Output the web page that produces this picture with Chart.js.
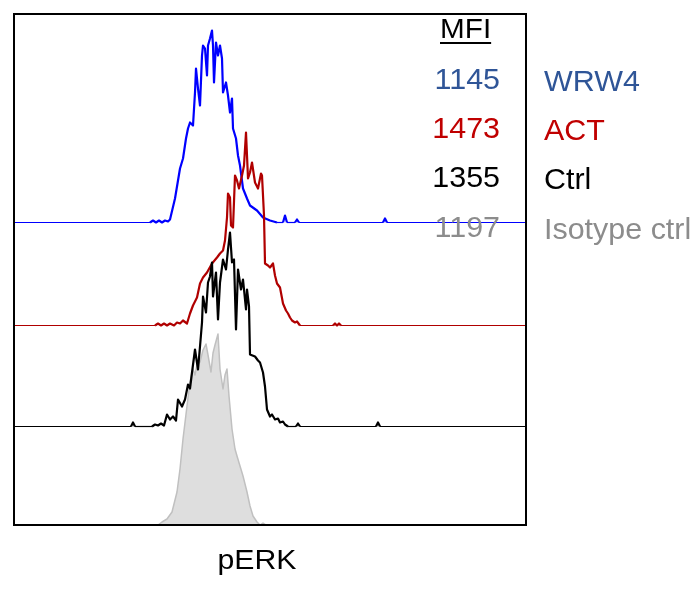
<!DOCTYPE html>
<html>
<head>
<meta charset="utf-8">
<script src="https://cdn.jsdelivr.net/npm/chart.js@4.4.1/dist/chart.umd.min.js"></script>
<style>
  body { margin: 0; background: #fff; }
  #wrap { width: 698px; height: 593px; position: relative; }
</style>
</head>
<body>
<div id="wrap"><canvas id="histChart"></canvas></div>
<script>
// Histogram data: channel (pERK intensity bin) and event count height
const wrw4Channel = [0, 68, 69.5, 71, 72.5, 74, 75.5, 77, 78, 80.5, 83, 84.5, 86, 87, 88, 89.5, 90.5, 91, 92, 93, 94, 94.5, 95.5, 96.5, 97, 98, 99, 99.5, 100, 101, 102, 103, 104, 104.5, 106, 107, 108, 109, 109.5, 111, 112, 113, 114.5, 116.5, 118, 121.5, 124.5, 128, 131.5, 134.5, 135.5, 136.5, 140.5, 141.5, 142.5, 184.5, 185.5, 186.5, 256];
const wrw4Count = [0, 0, 2, 0, 2, 0, 2, 1, 3, 24, 54, 64, 84, 94, 100, 97, 130, 154, 134, 117, 167, 177, 174, 147, 177, 184, 192, 177, 140, 180, 167, 177, 164, 130, 140, 127, 110, 124, 94, 84, 67, 57, 34, 24, 17, 12, 5, 2, 0, 0, 7, 0, 0, 3, 0, 0, 4, 0, 0];

const actChannel = [0, 70.5, 72, 73.5, 75, 76.5, 78, 80, 81.5, 83, 84.5, 86.5, 88, 89.5, 91.5, 93, 94.5, 96.5, 99, 101.5, 103, 104.5, 105.5, 106.5, 107, 108, 108.5, 109.5, 110.5, 111.5, 112.5, 114, 115, 116, 117, 118, 119, 120.5, 122, 123.5, 124, 125, 125.5, 127, 128, 129.5, 130.5, 131.5, 133, 134.5, 136, 137, 138, 139, 140.5, 141.5, 143, 159.5, 160.5, 161.5, 162.5, 163.5, 256];
const actCount = [0, 0, 2, 0, 2, 0, 2, 0, 3, 2, 5, 2, 12, 20, 28, 42, 48, 53, 62, 68, 72, 75, 85, 108, 132, 128, 100, 98, 150, 145, 137, 150, 160, 193, 147, 153, 163, 143, 137, 152, 150, 110, 62, 60, 58, 62, 50, 42, 38, 22, 15, 12, 8, 5, 3, 4, 0, 0, 2, 0, 2, 0, 0];

const ctrlChannel = [0, 58.5, 59.5, 60.5, 69, 70.5, 72, 73.5, 75, 76.5, 78, 79.5, 81, 82, 84, 85.5, 87, 88, 89, 90.5, 92, 93, 94, 94.5, 96, 97, 98, 99, 99.5, 101, 102, 103, 104.5, 106, 107, 108, 109, 110, 111, 112, 113.5, 114.5, 116, 116.5, 117.5, 118, 120.5, 122, 123, 124.5, 125.5, 126.5, 128, 129, 130.5, 132, 133, 134.5, 135.5, 137, 141, 142, 143, 181, 182, 183, 256];
const ctrlCount = [0, 0, 4, 0, 0, 2, 1, 3, 1, 12, 7, 10, 6, 27, 20, 27, 42, 38, 54, 77, 57, 80, 104, 130, 114, 144, 150, 164, 130, 154, 107, 144, 167, 157, 177, 194, 164, 167, 97, 157, 137, 147, 117, 137, 120, 72, 70, 66, 64, 54, 40, 17, 10, 12, 7, 8, 4, 5, 2, 0, 0, 3, 0, 0, 4, 0, 0];

const isoChannel = [0, 72, 74, 76.5, 79, 81.5, 83, 84.5, 86.5, 88, 89.5, 90.5, 91.5, 93, 94.5, 96, 97, 98.5, 99.5, 100.5, 102, 103, 104.5, 105.5, 106.5, 107.5, 109, 110.5, 111.5, 113, 114.5, 116.5, 118, 119.5, 121.5, 123, 124.5, 126, 256];
const isoCount = [0, 0, 3, 6, 13, 33, 56, 86, 119, 143, 156, 150, 160, 163, 175, 181, 170, 153, 172, 180, 191, 156, 136, 150, 156, 129, 96, 76, 69, 59, 49, 33, 19, 9, 3, 0, 2, 0, 0];

const sampleNames = ['WRW4', 'ACT', 'Ctrl', 'Isotype ctrl'];
const mfiValues = ['1145', '1473', '1355', '1197'];
const textColors = ['#2f5597', '#c00000', '#000000', '#8c8c8c'];

// vertical offset of each histogram in the stacked overlay
const offsets = { wrw4: 302.5, act: 199.5, ctrl: 98.5, iso: 0 };

function toPoints(ch, counts, offset) {
  return ch.map((c, i) => ({ x: c, y: counts[i] + offset }));
}

// thin stroke along the empty baseline, heavier stroke on the histogram itself
function segWidth(offset) {
  return (c) => (c.p0.parsed.y === offset && c.p1.parsed.y === offset ? 1.2 : 2.2);
}

const FONT = "'Liberation Sans', Arial, sans-serif";

function stretchedText(ctx, text, x, y, align, color, size, sx) {
  ctx.save();
  ctx.font = size + 'px ' + FONT;
  ctx.fillStyle = color;
  ctx.textBaseline = 'alphabetic';
  ctx.textAlign = align;
  ctx.translate(x, y);
  ctx.scale(sx, 1);
  ctx.fillText(text, 0, 0);
  const w = ctx.measureText(text).width * sx;
  ctx.restore();
  return w;
}

const framePlugin = {
  id: 'frame',
  afterDatasetsDraw(chart) {
    const { ctx, chartArea: a } = chart;
    ctx.save();
    ctx.strokeStyle = '#000';
    ctx.lineWidth = 2;
    ctx.strokeRect(a.left, a.top, a.right - a.left, a.bottom - a.top);
    ctx.restore();
  },
  afterDraw(chart) {
    const ctx = chart.ctx;
    // MFI header, underlined
    const w = stretchedText(ctx, 'MFI', 440, 38, 'left', '#000', 27, 1.1);
    ctx.save();
    ctx.fillStyle = '#000';
    ctx.fillRect(440, 42, w, 2);
    ctx.restore();

    const baselines = [89, 138, 187, 237];
    mfiValues.forEach((v, i) => {
      stretchedText(ctx, v, 500, baselines[i], 'right', textColors[i], 29, 1.05);
      stretchedText(ctx, sampleNames[i], 544, baselines[i] + 1.5, 'left', textColors[i], 29, 1.05);
    });

    // x axis title
    stretchedText(ctx, 'pERK', 257, 569, 'center', '#000', 27, 1.12);
  }
};

const ctx = document.getElementById('histChart').getContext('2d');
const histChart = new Chart(ctx, {
  type: 'line',
  data: {
    datasets: [
      {
        label: 'Ctrl',
        data: toPoints(ctrlChannel, ctrlCount, offsets.ctrl),
        borderColor: '#000000',
        borderWidth: 2.2,
        segment: { borderWidth: segWidth(offsets.ctrl) },
        order: 0,
      },
      {
        label: 'ACT',
        data: toPoints(actChannel, actCount, offsets.act),
        borderColor: '#b00000',
        borderWidth: 2.2,
        segment: { borderWidth: segWidth(offsets.act) },
        order: 1,
      },
      {
        label: 'WRW4',
        data: toPoints(wrw4Channel, wrw4Count, offsets.wrw4),
        borderColor: '#0000ff',
        borderWidth: 2.2,
        segment: { borderWidth: segWidth(offsets.wrw4) },
        order: 2,
      },
      {
        label: 'Isotype ctrl',
        data: toPoints(isoChannel, isoCount, offsets.iso),
        borderColor: '#c0c0c0',
        backgroundColor: '#dedede',
        borderWidth: 1.5,
        fill: 'origin',
        order: 3,
      },
    ],
  },
  options: {
    responsive: true,
    maintainAspectRatio: false,
    animation: false,
    layout: { padding: { left: 14, top: 14, right: 172, bottom: 68 } },
    elements: { point: { radius: 0 }, line: { tension: 0, borderJoinStyle: 'round' } },
    plugins: { legend: { display: false }, tooltip: { enabled: false } },
    scales: {
      x: { type: 'linear', min: 0, max: 256, display: false },
      y: { type: 'linear', min: 0, max: 511, display: false },
    },
  },
  plugins: [framePlugin],
});
</script>
</body>
</html>
